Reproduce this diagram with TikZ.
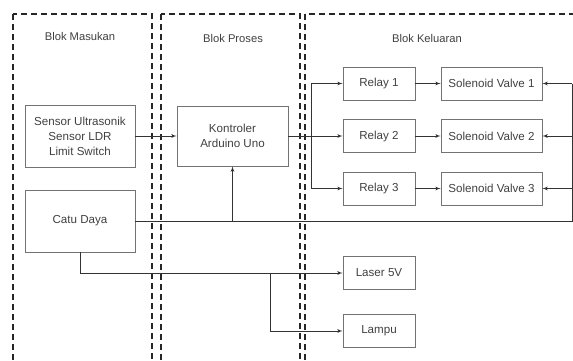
\documentclass[tikz,border=0pt]{standalone}
\usepackage{fontspec}
\setmainfont{Liberation Sans}
\usepackage{tikz}
\usetikzlibrary{arrows}

\begin{document}
\begin{tikzpicture}[x=1pt,y=-1pt]
      \tikzset{
        blok/.style={draw=black!85, line width=1.5pt, dash pattern=on 6pt off 4pt},
        box/.style={draw=black!55, line width=0.8pt, rectangle, text=black!75, align=center, inner sep=1pt,
                    font=\fontsize{11.6}{15}\selectfont, minimum width=110pt, minimum height=62pt},
        relay/.style={box, minimum width=72pt, minimum height=33pt},
        valve/.style={box, minimum width=101pt, minimum height=33pt},
        judul/.style={text=black!75, font=\fontsize{11.2}{13}\selectfont},
        wire/.style={draw=black!80, line width=0.8pt},
        line/.style={wire, -latex'},
      }
      \useasboundingbox (0,0) rectangle (573,360);
      \clip (0,0) rectangle (573,360);

      % dashed blocks
      \draw [blok] (13,14) rectangle (152,372);
      \draw [blok] (161,14) rectangle (300,372);
      \draw [blok] (305,14) rectangle (582,372);
      \node [judul] (jmasuk) at (80,36) {Blok Masukan};
      \node [judul] (jproses) at (233,38) {Blok Proses};
      \node [judul] (jkeluar) at (427,38) {Blok Keluaran};

      \node [box] (sens) at (80,136) {Sensor Ultrasonik\\Sensor LDR\\Limit Switch};
      \node [box, right of=sens, node distance=152.5pt, minimum width=111pt, minimum height=60pt] (ctrl) {Kontroler\\Arduino Uno};
      \node [box, below of=sens, node distance=85pt] (catu) {Catu Daya};

      \node [relay] (rel1) at (379,83.5) {Relay 1};
      \node [relay, below of=rel1, node distance=52.5pt] (rel2) {Relay 2};
      \node [relay, below of=rel2, node distance=52.5pt] (rel3) {Relay 3};
      \node [valve, right of=rel1, node distance=112.5pt] (sol1) {Solenoid Valve 1};
      \node [valve, right of=rel2, node distance=112.5pt] (sol2) {Solenoid Valve 2};
      \node [valve, right of=rel3, node distance=112.5pt] (sol3) {Solenoid Valve 3};
      \node [relay] (laser) at (379,273) {Laser 5V};
      \node [relay, below of=laser, node distance=58pt] (lampu) {Lampu};

      \coordinate (kiri) at (311,0);
      \coordinate (kanan) at (572,0);
      \coordinate (cabang) at (270,0);

      \path [line] (sens)--(ctrl);
      \path [wire] (ctrl.east)--(ctrl.east -| kiri);
      \path [wire] (kiri |- rel1)--(kiri |- rel3);
      \path [line] (kiri |- rel1)--(rel1);
      \path [line] (kiri |- rel2)--(rel2);
      \path [line] (kiri |- rel3)--(rel3);
      \path [line] (rel1)--(sol1);
      \path [line] (rel2)--(sol2);
      \path [line] (rel3)--(sol3);
      % catu daya
      \path [wire] (catu.east)--(catu.east -| kanan)--(kanan |- sol1);
      \path [line] (kanan |- sol1)--(sol1);
      \path [line] (kanan |- sol2)--(sol2);
      \path [line] (kanan |- sol3)--(sol3);
      \path [line] (catu.east -| ctrl)--(ctrl);
      \path [line] (catu.south) |- (laser);
      \path [line] (cabang |- laser) |- (lampu);
\end{tikzpicture}
\end{document}
